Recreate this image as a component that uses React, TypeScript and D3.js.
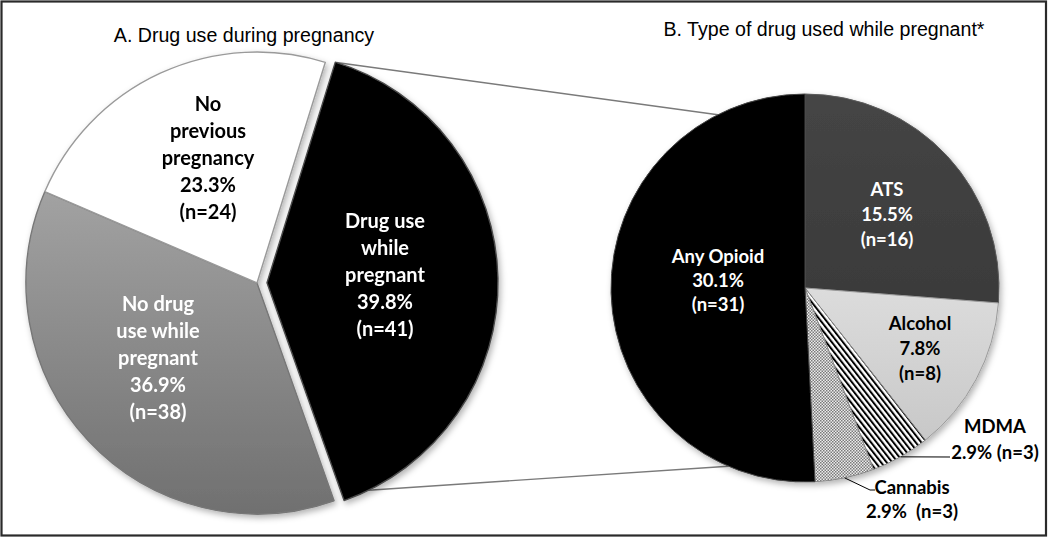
import React from "react";
import * as d3 from "d3";

// ---- Data ----
const pieACategories = ["Drug use while pregnant", "No drug use while pregnant", "No previous pregnancy"];
const pieANameLines = [["Drug use", "while", "pregnant"], ["No drug", "use while", "pregnant"], ["No", "previous", "pregnancy"]];
const pieACounts = [41, 38, 24];
const pieAPercents = ["39.8%", "36.9%", "23.3%"];

const pieBCategories = ["ATS", "Alcohol", "MDMA", "Cannabis", "Any Opioid"];
const pieBCounts = [16, 8, 3, 3, 31];
const pieBPercents = ["15.5%", "7.8%", "2.9%", "2.9%", "30.1%"];

const titleA = "A. Drug use during pregnancy";
const titleB = "B. Type of drug used while pregnant*";

// ---- Layout ----
const W = 1050;
const H = 541;
const deg = Math.PI / 180;
const A = { cx: 257, cy: 283, r: 231, start: 17.2 * deg, explode: 10 };
const B = { cx: 805, cy: 288, r: 194 };
// connector anchor angles (on exploded slice circle / on secondary pie)
const connA = [17.5 * deg, 153.9 * deg];
const connB = [333.3 * deg, 203.3 * deg];

const fontLabel = "Lato, 'Open Sans', sans-serif";
const fontTitle = "'Liberation Sans', Arial, sans-serif";

// label layout, offsets relative to pie centres
const labelA = [
  { dx: 128, dy: -55, lh: 27, color: "#fff" },
  { dx: -99, dy: 28, lh: 27, color: "#fff" },
  { dx: -49, dy: -172, lh: 27, color: "#000" },
];
const labelB = [
  { dx: 82, dy: -92, lh: 25, color: "#fff" },
  { dx: 115, dy: 42, lh: 25, color: "#000" },
  { dx: 190, dy: 145, lh: 26, color: "#000" },
  { dx: 107, dy: 206, lh: 24, color: "#000" },
  { dx: -87, dy: -25, lh: 24, color: "#fff" },
];

export default function App() {
  const pieA = d3.pie<number>().sort(null).startAngle(A.start).endAngle(A.start + 2 * Math.PI)(pieACounts);
  const pieB = d3.pie<number>().sort(null)(pieBCounts);
  const arcA = d3.arc<d3.PieArcDatum<number>>().innerRadius(0).outerRadius(A.r);
  const arcB = d3.arc<d3.PieArcDatum<number>>().innerRadius(0).outerRadius(B.r);

  const fillsA = ["#000", "url(#gradGray)", "#fff"];
  const strokesA = ["#4a4a4a", "#777", "#9a9a9a"];
  const fillsB = ["url(#gradATS)", "url(#gradAlc)", "url(#stripes)", "url(#dots)", "#000"];
  const strokesB = ["#5a5a5a", "#9a9a9a", "#888", "#888", "#444"];

  const explodeOffset = (d: d3.PieArcDatum<number>) => {
    const m = (d.startAngle + d.endAngle) / 2;
    return [A.explode * Math.sin(m), -A.explode * Math.cos(m)];
  };
  const [ex, ey] = explodeOffset(pieA[0]);

  const pA = (t: number) => [A.cx + ex + A.r * Math.sin(t), A.cy + ey - A.r * Math.cos(t)];
  const pB = (t: number) => [B.cx + B.r * Math.sin(t), B.cy - B.r * Math.cos(t)];
  const line = d3.line();

  const linesA = pieA.map((d, i) => [...pieANameLines[i], pieAPercents[i], `(n=${pieACounts[i]})`]);
  const linesB = pieB.map((d, i) => {
    if (i === 2) return [pieBCategories[i], `${pieBPercents[i]} (n=${pieBCounts[i]})`];
    if (i === 3) return [pieBCategories[i], `${pieBPercents[i]}  (n=${pieBCounts[i]})`];
    return [pieBCategories[i], pieBPercents[i], `(n=${pieBCounts[i]})`];
  });

  // leader lines for small slices
  const mdma = pieB[2];
  const cann = pieB[3];
  const mid = (d: d3.PieArcDatum<number>) => (d.startAngle + d.endAngle) / 2;
  const mdmaStart = pB(mid(mdma));
  const cannStart = pB(mid(cann));
  const mdmaLeader = [mdmaStart, [B.cx + 145, B.cy + 169]] as [number, number][];
  const cannLeader = [cannStart, [B.cx + 65, B.cy + 202], [B.cx + 70, B.cy + 202]] as [number, number][];

  return (
    <svg width={W} height={H} style={{ position: "absolute", left: 0, top: 0, background: "#fff" }}>
      <defs>
        <linearGradient id="gradGray" x1="0" y1="0" x2="0" y2="1">
          <stop offset="0" stopColor="#a2a2a2" />
          <stop offset="1" stopColor="#707070" />
        </linearGradient>
        <linearGradient id="gradATS" x1="0" y1="0" x2="0" y2="1">
          <stop offset="0" stopColor="#454545" />
          <stop offset="1" stopColor="#3a3a3a" />
        </linearGradient>
        <linearGradient id="gradAlc" x1="0" y1="0" x2="0" y2="1">
          <stop offset="0" stopColor="#dcdcdc" />
          <stop offset="1" stopColor="#c8c8c8" />
        </linearGradient>
        <pattern id="stripes" patternUnits="userSpaceOnUse" width="4.4" height="10" patternTransform="rotate(-38)">
          <rect x="0" y="0" width="4.4" height="10" fill="#fff" />
          <rect x="0" y="0" width="2" height="10" fill="#000" />
        </pattern>
        <pattern id="dots" patternUnits="userSpaceOnUse" width="3" height="3">
          <rect x="0" y="0" width="3" height="3" fill="#ececec" />
          <rect x="0" y="0" width="1.5" height="1.5" fill="#7a7a7a" />
          <rect x="1.5" y="1.5" width="1.5" height="1.5" fill="#7a7a7a" />
        </pattern>
        <filter id="shadow" x="-10%" y="-10%" width="125%" height="125%">
          <feDropShadow dx="2" dy="3" stdDeviation="3" floodColor="#000" floodOpacity="0.3" />
        </filter>
      </defs>

      <rect x={1.5} y={1.5} width={1044.5} height={534} fill="#fff" stroke="#2a2a2a" strokeWidth={2.2} />

      {/* connector lines */}
      <path d={line([pA(connA[0]), pB(connB[0])] as [number, number][]) || ""} stroke="#7a7a7a" strokeWidth={1.4} fill="none" />
      <path d={line([pA(connA[1]), pB(connB[1])] as [number, number][]) || ""} stroke="#7a7a7a" strokeWidth={1.4} fill="none" />

      <text x={244} y={41.5} fontFamily={fontTitle} fontSize={19.6} textAnchor="middle" fill="#000">{titleA}</text>
      <text x={824} y={36} fontFamily={fontTitle} fontSize={19.6} textAnchor="middle" fill="#000">{titleB}</text>

      {/* Pie A */}
      <g filter="url(#shadow)">
        {pieA.map((d, i) => {
          const [ox, oy] = i === 0 ? [ex, ey] : [0, 0];
          return (
            <path key={pieACategories[i]} d={arcA(d) || ""} transform={`translate(${A.cx + ox},${A.cy + oy})`}
              fill={fillsA[i]} stroke={strokesA[i]} strokeWidth={1.4} strokeLinejoin="round" />
          );
        })}
      </g>
      {pieA.map((d, i) => {
        const L = labelA[i];
        return (
          <text key={"la" + i} fontFamily={fontLabel} fontWeight={700} fontSize={20} textAnchor="middle" fill={L.color}>
            {linesA[i].map((t, k) => (
              <tspan key={k} x={A.cx + L.dx} y={A.cy + L.dy + k * L.lh}>{t}</tspan>
            ))}
          </text>
        );
      })}

      {/* Pie B */}
      <g filter="url(#shadow)">
        {pieB.map((d, i) => (
          <path key={pieBCategories[i]} d={arcB(d) || ""} transform={`translate(${B.cx},${B.cy})`}
            fill={fillsB[i]} stroke={strokesB[i]} strokeWidth={1} strokeLinejoin="round" />
        ))}
      </g>
      <path d={line(mdmaLeader) || ""} stroke="#000" strokeWidth={1} fill="none" />
      <path d={line(cannLeader) || ""} stroke="#000" strokeWidth={1} fill="none" />
      {pieB.map((d, i) => {
        const L = labelB[i];
        return (
          <text key={"lb" + i} fontFamily={fontLabel} fontWeight={700} fontSize={18.5} textAnchor="middle" fill={L.color} style={{ whiteSpace: "pre" }}>
            {linesB[i].map((t, k) => (
              <tspan key={k} x={B.cx + L.dx} y={B.cy + L.dy + k * L.lh}>{t}</tspan>
            ))}
          </text>
        );
      })}
    </svg>
  );
}
